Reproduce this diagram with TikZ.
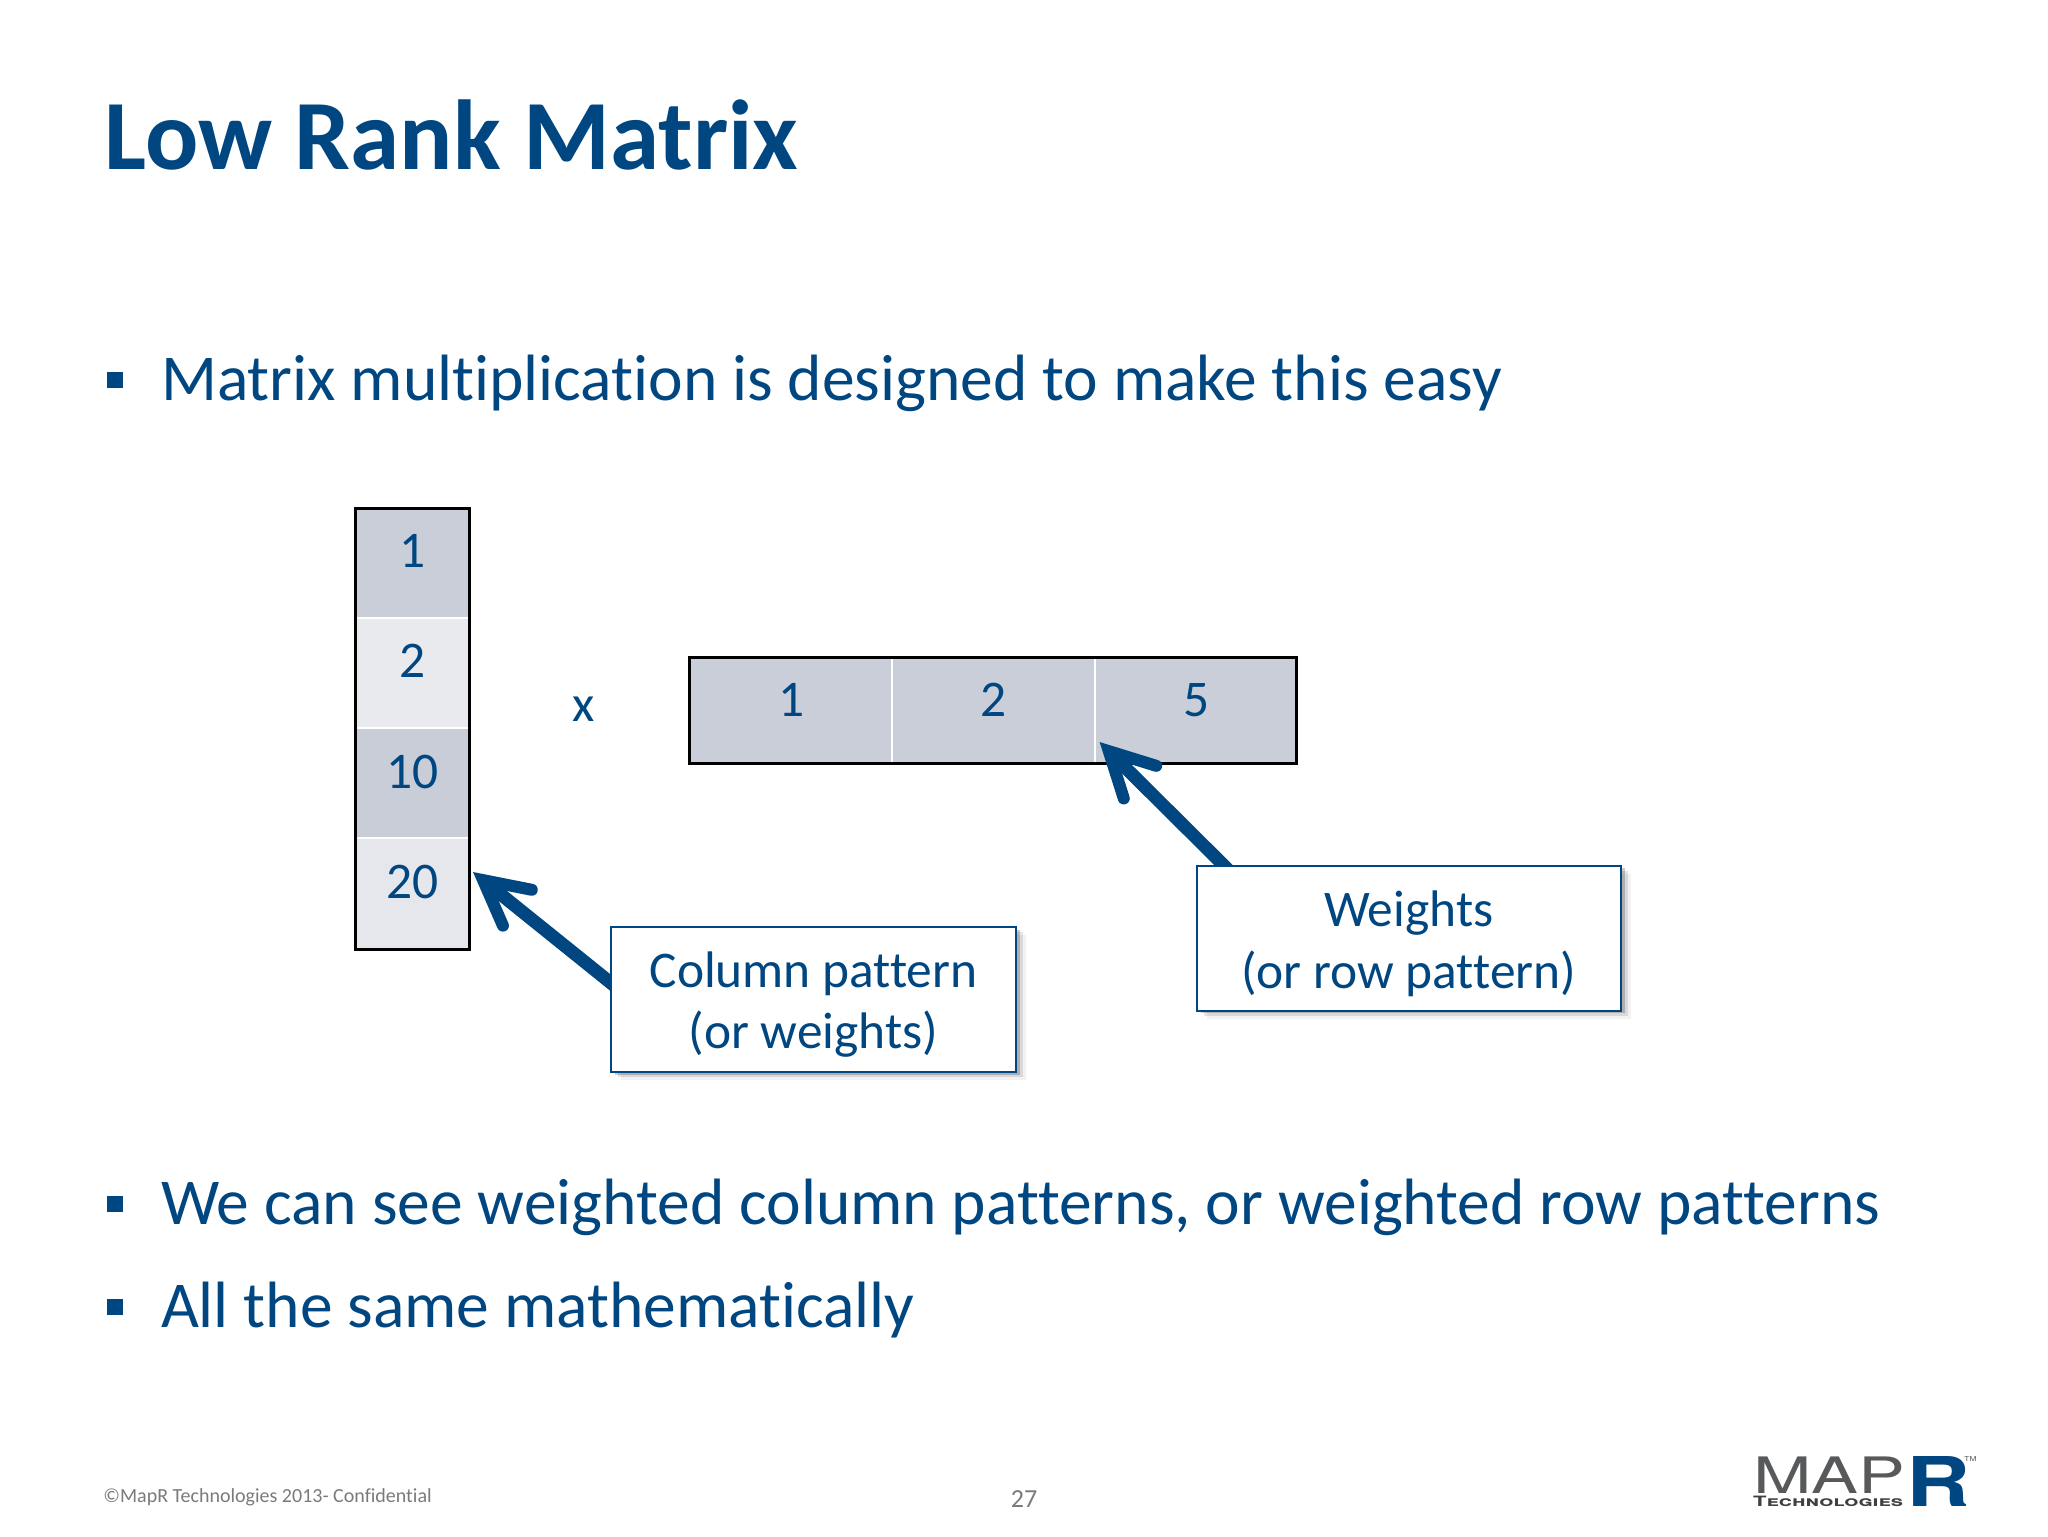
\documentclass[tikz,border=0pt]{standalone}
\usepackage{fontspec}
\usepackage{graphicx}
\setmainfont{Carlito}[Ligatures=NoCommon]
\newfontfamily\logofont{TeX Gyre Heros}
\usetikzlibrary{arrows.meta,shadows,calc}
\pgfdeclarelayer{mid}
\pgfdeclarelayer{top}
\pgfsetlayers{main,mid,top}
\definecolor{navy}{HTML}{004680}
\definecolor{cellA}{HTML}{CACED9}
\definecolor{cellB}{HTML}{E9EAED}
\definecolor{cellC}{HTML}{C8CDD8}
\definecolor{cellD}{HTML}{E6E7EC}
\definecolor{footgrey}{HTML}{7A7A7A}
\definecolor{logogrey}{HTML}{58595B}
\newcommand{\firstline}{\rule{0pt}{23pt}}
\tikzset{
  txt/.style={anchor=base west,inner sep=0pt,outer sep=0pt,text=navy},
  titletxt/.style={txt,font=\fontsize{49.7}{49.7}\selectfont\bfseries},
  bodytxt/.style={txt,font=\fontsize{32.75}{32.75}\selectfont},
  bulletbox/.style={fill=navy,inner sep=0pt,minimum width=8pt,minimum height=8pt},
  cellnum/.style={anchor=base,inner sep=0pt,text=navy,font=\fontsize{25.7}{25.7}\selectfont},
  cellv/.style={inner sep=0pt,minimum width=56.5pt},
  cellh/.style={inner sep=0pt,minimum height=52.75pt},
  divider/.style={draw=white,line width=1pt},
  frameline/.style={draw=black,line width=1.5pt},
  callout/.style={draw=navy,line width=1.2pt,fill=white,inner sep=0pt,align=center,text=navy,
    font=\fontsize{25.7}{30.7}\selectfont,
    general shadow={fill=black,opacity=.05,shadow xshift=5pt,shadow yshift=-4pt},
    general shadow={fill=black,opacity=.10,shadow xshift=3.5pt,shadow yshift=-2.5pt},
    general shadow={fill=black,opacity=.20,shadow xshift=2pt,shadow yshift=-1.2pt}},
  pointer/.style={draw=navy,line width=6.5pt,
    -{Straight Barb[length=22pt,width=23pt,line width=6pt,line cap=round,line join=miter]}},
  foot/.style={anchor=base,inner sep=0pt,text=footgrey},
}
\begin{document}
\begin{tikzpicture}[x=0.5pt,y=-0.5pt]
\useasboundingbox (0,0) rectangle (2048,1536);
\node[titletxt] (title) at (104.5,169) {Low Rank Matrix};
\node[bulletbox] (b1) at (115,380) {};
\node[bodytxt] (l1) at (161,400) {Matrix multiplication is designed to make this easy};
\node[bulletbox] (b2) at (115,1203.5) {};
\node[bodytxt] (l2) at (161,1224.5) {We can see weighted column patterns, or weighted row patterns};
\node[bulletbox] (b3) at (115,1307) {};
\node[bodytxt] (l3) at (161,1327) {All the same mathematically};
% column vector
\node[cellv,fill=cellA,minimum height=54.5pt] (c1) at (412.5,563.5) {};
\node[cellv,fill=cellB,minimum height=55pt] (c2) at (412.5,673) {};
\node[cellv,fill=cellC,minimum height=55pt] (c3) at (412.5,783) {};
\node[cellv,fill=cellD,minimum height=55.5pt] (c4) at (412.5,893.5) {};
\draw[divider] (c1.south west) -- (c1.south east);
\draw[divider] (c2.south west) -- (c2.south east);
\draw[divider] (c3.south west) -- (c3.south east);
\draw[frameline] (c1.north west) rectangle (c4.south east);
\node[cellnum] (n1) at (412.7,567) {1};
\node[cellnum] (n2) at (412.7,677.5) {2};
\node[cellnum] (n3) at (412.7,788) {10};
\node[cellnum] (n4) at (412.7,898.5) {20};
\node[cellnum] (times) at (584,721) {x};
% row vector
\node[cellh,fill=cellA,minimum width=101.25pt] (r1) at (790.75,710.25) {};
\node[cellh,fill=cellA,minimum width=101.25pt] (r2) at (993.25,710.25) {};
\node[cellh,fill=cellA,minimum width=100.75pt] (r3) at (1195.25,710.25) {};
\draw[divider] (r1.north east) -- (r1.south east);
\draw[divider] (r2.north east) -- (r2.south east);
\draw[frameline] (r1.north west) rectangle (r3.south east);
\node[cellnum] (m1) at (791.3,716) {1};
\node[cellnum] (m2) at (993.8,716) {2};
\node[cellnum] (m3) at (1196.3,716) {5};
% callouts
\begin{pgfonlayer}{top}
\node[callout,minimum width=202.5pt,minimum height=72.5pt] (cb) at (813.5,999.7) {\firstline Column pattern\\(or weights)};
\node[callout,minimum width=212pt,minimum height=72.5pt] (wb) at (1408.7,938.5) {\firstline Weights\\(or row pattern)};
\end{pgfonlayer}
\coordinate (tip1) at (473,872);
\coordinate (tip2) at (1099.6,742);
\coordinate (s1) at ([yshift=8.8pt]cb.west);
\coordinate (s2) at ($(wb.north west)!0.065!(wb.north east)$);
\begin{pgfonlayer}{mid}
\draw[pointer] ($(s1)!-10pt!(tip1)$) -- (tip1);
\draw[pointer] ($(s2)!-10pt!(tip2)$) -- (tip2);
\end{pgfonlayer}
% footer
\node[foot,anchor=base west,font=\fontsize{10}{10}\selectfont] (copy) at (103,1502) {©MapR Technologies 2013- Confidential};
\node[foot,font=\fontsize{13}{13}\selectfont] (page) at (1024,1507) {27};
% logo
\node[anchor=base west,inner sep=0pt,text=logogrey] (logoA) at (1752.6,1493) {\resizebox{76pt}{18.3pt}{\logofont MAP}};
\node[anchor=base west,inner sep=0pt,text=navy] (logoB) at (1906,1506) {\resizebox{32pt}{25pt}{\logofont\bfseries R}};
\node[anchor=base west,inner sep=0pt,text=black!75] (logoC) at (1752.6,1506) {\resizebox{75pt}{5.2pt}{\logofont\bfseries\scshape Technologies}};
\node[anchor=base west,inner sep=0pt,text=logogrey] (logoD) at (1964,1461) {\resizebox{6pt}{2.5pt}{\logofont TM}};
\end{tikzpicture}
\end{document}
